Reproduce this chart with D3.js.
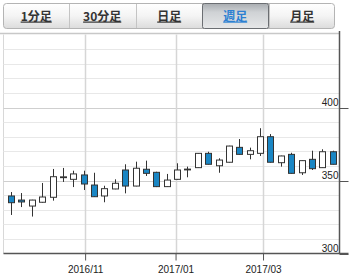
<!DOCTYPE html>
<html>
<head>
<meta charset="utf-8">
<script src="https://cdn.jsdelivr.net/npm/d3@7"></script>
<style>
body { margin: 0; background: #fff; }
svg { display: block; font-family: "Liberation Sans", Arial, sans-serif; }
</style>
</head>
<body>
<script>
var tabs = ['1分足', '30分足', '日足', '週足', '月足'];
var activeTab = '週足';

var weeks = ['2016-09-12', '2016-09-19', '2016-09-26', '2016-10-03', '2016-10-10', '2016-10-17',
    '2016-10-24', '2016-10-31', '2016-11-07', '2016-11-14', '2016-11-21', '2016-11-28',
    '2016-12-05', '2016-12-12', '2016-12-19', '2016-12-26', '2017-01-02', '2017-01-09',
    '2017-01-16', '2017-01-23', '2017-01-30', '2017-02-06', '2017-02-13', '2017-02-20',
    '2017-02-27', '2017-03-06', '2017-03-13', '2017-03-20', '2017-03-27', '2017-04-03',
    '2017-04-10', '2017-04-17'];
var openVals  = [339.4, 336.6, 332.5, 335.1, 338.5, 352.2, 350.8, 353.8, 346.9, 339.4, 344.2, 357.2,
    346.2, 357.7, 355.6, 345.8, 350.8, 357.6, 358.8, 368.6, 360.1, 362.5, 372.7, 367.9,
    368.6, 380.0, 362.2, 367.9, 355.3, 364.5, 358.8, 369.7];
var highVals  = [342.1, 341.4, 336.8, 348.3, 357.9, 358.6, 356.7, 356.7, 355.3, 346.4, 350.8, 361.1,
    362.9, 363.6, 356.0, 354.5, 361.8, 359.5, 368.8, 369.7, 365.2, 373.8, 378.4, 372.5,
    385.8, 381.8, 367.0, 369.0, 363.8, 370.4, 371.4, 370.4];
var lowVals   = [326.4, 331.8, 325.3, 334.8, 336.2, 349.0, 345.5, 343.5, 338.7, 335.1, 344.0, 341.2,
    346.0, 353.1, 345.5, 345.6, 350.6, 352.2, 358.6, 361.0, 355.3, 362.3, 367.7, 364.5,
    366.8, 362.3, 359.5, 354.7, 353.8, 357.2, 358.6, 361.0];
var closeVals = [334.8, 335.3, 336.6, 338.7, 352.6, 352.5, 354.5, 347.6, 338.9, 344.4, 348.1, 346.2,
    358.4, 354.9, 345.8, 350.3, 357.2, 357.8, 368.6, 361.1, 364.0, 373.6, 367.9, 370.4,
    380.0, 362.5, 366.8, 354.9, 363.6, 358.1, 369.7, 361.1];

var yTicks = [300, 350, 400];
var yGrid = [310, 320, 330, 340, 360, 370, 380, 390, 410, 420, 430, 440];
var xTicks = ['2016-11-01', '2017-01-01', '2017-03-01'];
var xLabels = ['2016/11', '2017/01', '2017/03'];

var width = 350, height = 280;
var plotL = 3.5, plotR = 339.5, plotT = 34.5, plotB = 253.5;

var parse = d3.timeParse('%Y-%m-%d');
var candles = weeks.map(function (w, i) {
    return { date: parse(w), o: openVals[i], h: highVals[i], l: lowVals[i], c: closeVals[i] };
});

var x = d3.scaleTime()
    .domain([parse(weeks[0]), parse(weeks[weeks.length - 1])])
    .range([11, 332.7]);
var y = d3.scaleLinear().domain([300, 450]).range([plotB, plotT]);

var svg = d3.select('body').append('svg')
    .attr('width', width)
    .attr('height', height);

var defs = svg.append('defs');
var g1 = defs.append('linearGradient').attr('id', 'tab').attr('x1', 0).attr('y1', 0).attr('x2', 0).attr('y2', 1);
g1.append('stop').attr('offset', 0).attr('stop-color', '#ffffff');
g1.append('stop').attr('offset', 0.5).attr('stop-color', '#f4f4f4');
g1.append('stop').attr('offset', 1).attr('stop-color', '#dcdcdc');
var g2 = defs.append('linearGradient').attr('id', 'tabOn').attr('x1', 0).attr('y1', 0).attr('x2', 0).attr('y2', 1);
g2.append('stop').attr('offset', 0).attr('stop-color', '#a9adb1');
g2.append('stop').attr('offset', 0.35).attr('stop-color', '#cfd2d5');
g2.append('stop').attr('offset', 1).attr('stop-color', '#e6e7e8');

// tab bar
var tabW = (335 - 3) / tabs.length;
svg.append('rect')
    .attr('x', 3.5).attr('y', 3.5)
    .attr('width', 331).attr('height', 25)
    .attr('rx', 3)
    .attr('fill', 'url(#tab)')
    .attr('stroke', '#b4b4b4');

var tab = svg.selectAll('g.tab')
    .data(tabs)
    .enter().append('g')
        .attr('class', 'tab')
        .attr('transform', function (d, i) { return 'translate(' + Math.round(3 + i * tabW) + ',3)'; });

tab.filter(function (d, i) { return i > 0; })
    .append('line')
        .attr('x1', 0.5).attr('x2', 0.5)
        .attr('y1', 1).attr('y2', 25)
        .attr('stroke', '#c4c4c4');

tab.filter(function (d) { return d == activeTab; })
    .append('rect')
        .attr('x', 0.5).attr('y', 0.5)
        .attr('width', Math.round(tabW)).attr('height', 25)
        .attr('rx', 2)
        .attr('fill', 'url(#tabOn)')
        .attr('stroke', '#6b6e72');

tab.append('text')
    .attr('x', tabW / 2)
    .attr('y', 17.5)
    .attr('text-anchor', 'middle')
    .style('font-family', '"Noto Sans CJK JP", sans-serif')
    .style('font-size', '12px')
    .style('font-weight', 'bold')
    .style('text-decoration', 'underline')
    .attr('fill', function (d) { return d == activeTab ? '#2c80d2' : '#333'; })
    .text(function (d) { return d; });

// grid
svg.append('line')
    .attr('x1', 0).attr('x2', plotR)
    .attr('y1', 33.5).attr('y2', 33.5)
    .attr('stroke', '#c8c8c8').attr('stroke-width', 1.5);
svg.append('line')
    .attr('x1', plotL).attr('x2', plotL)
    .attr('y1', plotT).attr('y2', plotB)
    .attr('stroke', '#d8d8d8');

svg.selectAll('line.minor')
    .data(yGrid)
    .enter().append('line')
        .attr('x1', plotL).attr('x2', plotR)
        .attr('y1', function (d) { return Math.round(y(d)) + 0.5; })
        .attr('y2', function (d) { return Math.round(y(d)) + 0.5; })
        .attr('stroke', '#e8e8e8');

svg.selectAll('line.major')
    .data([350, 400])
    .enter().append('line')
        .attr('x1', plotL).attr('x2', plotR)
        .attr('y1', function (d) { return Math.round(y(d)) + 0.5; })
        .attr('y2', function (d) { return Math.round(y(d)) + 0.5; })
        .attr('stroke', '#cfcfcf');

svg.selectAll('line.vgrid')
    .data(xTicks)
    .enter().append('line')
        .attr('x1', function (d) { return Math.round(x(parse(d))) + 0.5; })
        .attr('x2', function (d) { return Math.round(x(parse(d))) + 0.5; })
        .attr('y1', plotT).attr('y2', plotB)
        .attr('stroke', '#d6d6d6').attr('stroke-width', 1.5);

// candles
var c = svg.selectAll('g.candle')
    .data(candles)
    .enter().append('g')
        .attr('class', 'candle')
        .attr('transform', function (d) { return 'translate(' + Math.round(x(d.date)) + ',0)'; });

c.append('line')
    .attr('x1', 0.5).attr('x2', 0.5)
    .attr('y1', function (d) { return y(d.h); })
    .attr('y2', function (d) { return y(d.l); })
    .attr('stroke', '#333');

c.append('rect')
    .attr('x', -2.5)
    .attr('width', 6)
    .attr('y', function (d) { return y(Math.max(d.o, d.c)); })
    .attr('height', function (d) { return Math.max(0.8, Math.abs(y(d.o) - y(d.c))); })
    .attr('fill', function (d) { return d.c < d.o ? '#1a86c4' : '#fff'; })
    .attr('stroke', '#333');

// axes
var xAxis = svg.append('g')
    .attr('transform', 'translate(0,' + plotB + ')')
    .call(d3.axisBottom(x)
        .tickValues(xTicks.map(parse))
        .tickSize(7)
        .tickFormat(function (d, i) { return xLabels[i]; }));
xAxis.select('.domain').remove();
xAxis.selectAll('line').attr('stroke', '#555');
xAxis.selectAll('text')
    .attr('y', 12)
    .attr('fill', '#222')
    .style('font-size', '10px')
    .style('font-family', '"Liberation Sans", Arial, sans-serif');

svg.append('line')
    .attr('x1', plotL).attr('x2', plotR + 9)
    .attr('y1', plotB).attr('y2', plotB)
    .attr('stroke', '#555').attr('stroke-width', 1.5);
svg.append('line')
    .attr('x1', plotR).attr('x2', plotR)
    .attr('y1', 31).attr('y2', plotB)
    .attr('stroke', '#555').attr('stroke-width', 1.5);

svg.selectAll('line.ytick')
    .data(yTicks)
    .enter().append('line')
        .attr('x1', plotR).attr('x2', plotR + 9)
        .attr('y1', function (d) { return Math.round(y(d)) + 0.5; })
        .attr('y2', function (d) { return Math.round(y(d)) + 0.5; })
        .attr('stroke', '#555');

svg.selectAll('text.ylab')
    .data(yTicks)
    .enter().append('text')
        .attr('x', plotR - 1)
        .attr('y', function (d) { return y(d) - 1.5; })
        .attr('text-anchor', 'end')
        .attr('fill', '#222')
        .style('font-size', '10px')
        .text(function (d) { return d; });
</script>
</body>
</html>
